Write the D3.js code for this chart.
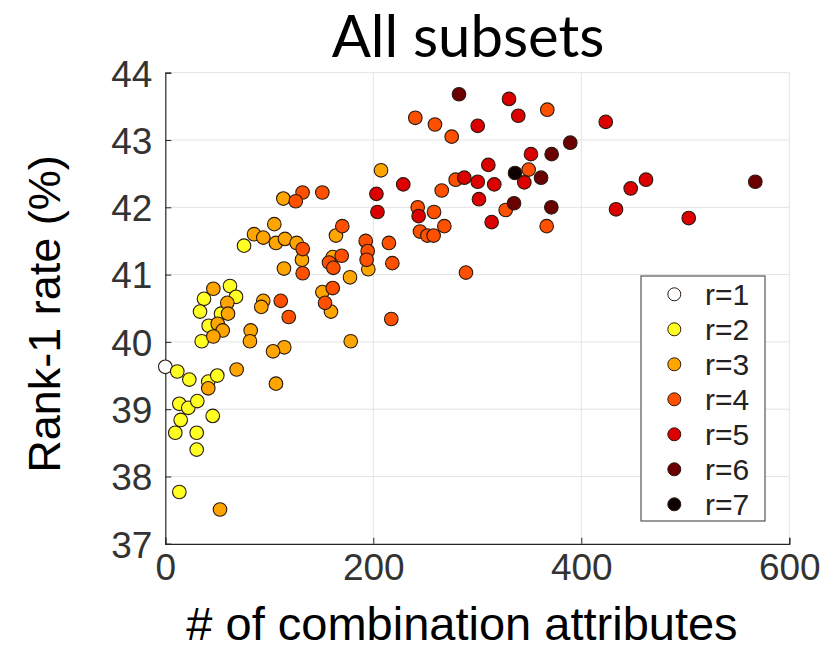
<!DOCTYPE html>
<html><head><meta charset="utf-8">
<script src="https://cdn.jsdelivr.net/npm/d3@7"></script>
<style>body{margin:0;background:#fff;} svg{display:block;}</style>
</head><body><svg id="c" width="829" height="649"></svg>
<script>
// ---- data ----
const seriesLabels = ["r=1","r=2","r=3","r=4","r=5","r=6","r=7"];
const seriesColors = ["#ffffff","#ffff22","#ffa500","#ff5000","#dc0000","#6b0000","#0d0000"];
const xTicks = [0,200,400,600];
const yTicks = [37,38,39,40,41,42,43,44];

const r1 = [[0,39.63]];
const r2 = [[11.5,39.56],[23.1,39.44],[41.3,39.41],[50,39.5],[13.5,39.08],[22.1,39.02],[30.8,39.12],
  [45.6,38.90],[14.8,38.84],[9.6,38.65],[30.2,38.65],[30.2,38.40],[13.5,37.77],[75.7,41.43],
  [62.2,40.83],[68,40.67],[37.2,40.64],[33.4,40.45],[53.6,40.42],[41.7,40.24],[35,40.01]];
const r3 = [[113.5,42.13],[104.8,41.75],[85.3,41.6],[94.2,41.55],[106.4,41.47],[115.1,41.53],[126.3,41.47],
  [131.4,41.22],[114.1,41.09],[164.1,41.58],[195.2,41.08],[161,41.26],[177.6,40.96],[151,40.74],
  [159.3,40.45],[178.3,40.01],[94.2,40.61],[92.3,40.52],[46.2,40.79],[59.6,40.58],[60.3,40.42],
  [50.4,40.27],[55.2,40.17],[46.2,40.08],[82.1,40.17],[81.4,40.01],[114.4,39.92],[103.6,39.86],
  [68.6,39.59],[41.3,39.31],[106.4,39.38],[52.6,37.51],[207.4,42.55]];
const r4 = [[132,42.22],[125.4,42.09],[151,42.22],[132.1,41.38],[132.1,41.02],[170.2,41.72],[192.7,41.5],
  [215,41.47],[194.6,41.35],[193.6,41.22],[218.3,41.17],[169.6,41.28],[157.4,41.18],[161.6,41.1],
  [161,40.8],[153.6,40.58],[217.3,40.34],[111,40.61],[118.7,40.37],[367.3,43.45],[240.4,43.33],
  [259.3,43.23],[275.4,43.05],[349.4,42.56],[279.2,42.41],[265.8,42.25],[327.3,41.96],[366.7,41.72],
  [242.7,42.0],[258.4,41.93],[244.9,41.64],[252,41.58],[258,41.58],[268.3,41.72],[289.1,41.03]];
const r5 = [[203,42.2],[204,41.93],[330.5,43.61],[339.4,43.36],[300.4,43.21],[423.5,43.27],[351.6,42.79],
  [310.6,42.63],[345.2,42.37],[228.8,42.34],[287.5,42.44],[300.4,42.38],[316.3,42.34],[301.6,42.12],
  [313.8,41.78],[447.5,42.28],[433.4,41.97],[243.6,41.87],[462.2,42.41],[503.3,41.84]];
const r6 = [[282.4,43.68],[389.4,42.96],[371.5,42.79],[361.3,42.44],[335.3,42.06],[371.2,42.0],[567.3,42.38]];
const r7 = [[336.3,42.51]];
const allSeries = [r1,r2,r3,r4,r5,r6,r7];

// ---- chart ----
const svg = d3.select("#c");
const x = d3.scaleLinear().domain([0,600]).range([165.3,789.3]);
const y = d3.scaleLinear().domain([37,44]).range([543.8,72.7]);
const font = "'Liberation Sans', Arial, Helvetica, sans-serif";

// grid
svg.append("g").selectAll("line.gx").data(xTicks.filter(d=>d>0)).join("line")
  .attr("x1",d=>x(d)).attr("x2",d=>x(d)).attr("y1",y(37)).attr("y2",y(44))
  .attr("stroke","#e3e3e3").attr("stroke-width",1);
svg.append("g").selectAll("line.gy").data(yTicks.filter(d=>d>37)).join("line")
  .attr("y1",d=>y(d)).attr("y2",d=>y(d)).attr("x1",x(0)).attr("x2",x(600))
  .attr("stroke","#e3e3e3").attr("stroke-width",1);

// axes
const xAxis = d3.axisBottom(x).tickValues(xTicks).tickSize(-6).tickPadding(10).tickFormat(d3.format("d"));
const yAxis = d3.axisLeft(y).tickValues(yTicks).tickSize(-6).tickPadding(13).tickFormat(d3.format("d"));
const gx = svg.append("g").attr("transform",`translate(0,${y(37)})`).call(xAxis);
const gy = svg.append("g").attr("transform",`translate(${x(0)},0)`).call(yAxis);
[gx,gy].forEach(g=>{
  g.select(".domain").attr("stroke","#262626").attr("stroke-width",1.2);
  g.selectAll(".tick line").attr("stroke","#262626");
  g.selectAll(".tick text").attr("font-family",font).attr("font-size",37).attr("fill","#333");
});
gx.selectAll(".tick text").attr("dy","0.71em");
gy.selectAll(".tick text").attr("dy","0.36em");

// points
allSeries.forEach((s,i)=>{
  svg.append("g").selectAll("circle").data(s).join("circle")
    .attr("cx",d=>x(d[0])).attr("cy",d=>y(d[1])).attr("r",6.8)
    .attr("fill",seriesColors[i]).attr("stroke","#2a1a10").attr("stroke-width",1.1);
});

// legend
const lg = svg.append("g");
lg.append("rect").attr("x",641).attr("y",276).attr("width",124).attr("height",245)
  .attr("fill","#fff").attr("stroke","#555").attr("stroke-width",1.2);
seriesLabels.forEach((lab,i)=>{
  const cy = 294.3 + i*35;
  lg.append("circle").attr("cx",674.3).attr("cy",cy).attr("r",6.5)
    .attr("fill",seriesColors[i]).attr("stroke","#2a1a10").attr("stroke-width",1);
  lg.append("text").attr("x",705).attr("y",cy).attr("dy","0.36em")
    .attr("font-family",font).attr("font-size",30).attr("fill","#222").text(lab);
});

// titles
svg.append("text").attr("x",468).attr("y",57).attr("text-anchor","middle")
  .attr("font-family","Lato, 'Open Sans', sans-serif").attr("font-size",58).attr("fill","#000")
  .text("All subsets");
svg.append("text").attr("x",462).attr("y",640).attr("text-anchor","middle")
  .attr("font-family",font).attr("font-size",47).attr("fill","#000")
  .text("# of combination attributes");
svg.append("text").attr("transform","translate(60,314) rotate(-90)").attr("text-anchor","middle")
  .attr("font-family",font).attr("font-size",45).attr("fill","#000")
  .text("Rank-1 rate (%)");
</script></body></html>
